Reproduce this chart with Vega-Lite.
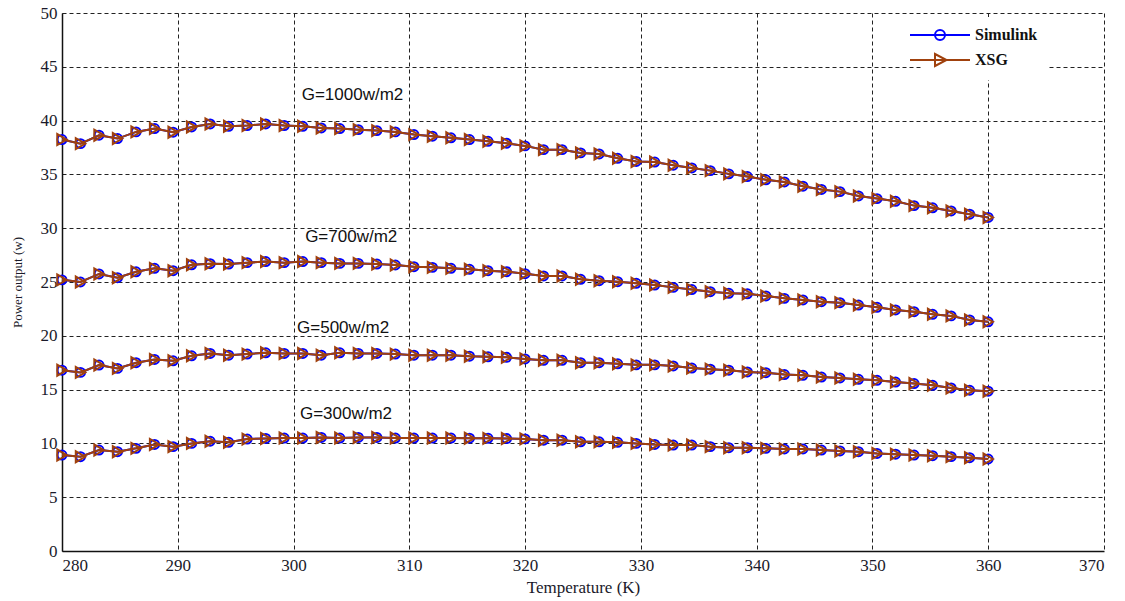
{
  "$schema": "https://vega.github.io/schema/vega-lite/v6.json",
  "width": 1042,
  "height": 538,
  "autosize": {"type": "none"},
  "padding": {"left": 62, "top": 13, "right": 21, "bottom": 50},
  "background": "white",
  "config": {
    "view": {"stroke": null},
    "axis": {
      "grid": true,
      "gridColor": "#222222",
      "gridDash": [4, 3],
      "gridWidth": 1,
      "gridOpacity": 1,
      "domainColor": "#111111",
      "domainWidth": 1.5,
      "ticks": false,
      "labelFont": "Liberation Serif",
      "labelFontSize": 17,
      "labelColor": "#1a1a2a",
      "titleFont": "Liberation Serif",
      "titleFontWeight": "normal",
      "titleColor": "#1a1a2a"
    }
  },
  "datasets": {
    "curves": [
      {"T": 280, "g1000": 38.24, "g700": 25.2, "g500": 16.8, "g300": 8.92},
      {"T": 281.6, "g1000": 37.86, "g700": 25.0, "g500": 16.6, "g300": 8.76},
      {"T": 283.2, "g1000": 38.64, "g700": 25.75, "g500": 17.28, "g300": 9.38},
      {"T": 284.8, "g1000": 38.33, "g700": 25.4, "g500": 16.97, "g300": 9.23},
      {"T": 286.4, "g1000": 38.95, "g700": 25.95, "g500": 17.5, "g300": 9.54},
      {"T": 288, "g1000": 39.26, "g700": 26.27, "g500": 17.8, "g300": 9.9},
      {"T": 289.6, "g1000": 38.92, "g700": 26.05, "g500": 17.68, "g300": 9.7},
      {"T": 291.2, "g1000": 39.41, "g700": 26.6, "g500": 18.14, "g300": 10.0},
      {"T": 292.8, "g1000": 39.69, "g700": 26.7, "g500": 18.36, "g300": 10.2},
      {"T": 294.4, "g1000": 39.47, "g700": 26.67, "g500": 18.2, "g300": 10.1},
      {"T": 296, "g1000": 39.54, "g700": 26.8, "g500": 18.3, "g300": 10.4},
      {"T": 297.6, "g1000": 39.69, "g700": 26.9, "g500": 18.42, "g300": 10.46},
      {"T": 299.2, "g1000": 39.54, "g700": 26.8, "g500": 18.36, "g300": 10.5},
      {"T": 300.8, "g1000": 39.47, "g700": 26.9, "g500": 18.36, "g300": 10.5},
      {"T": 302.4, "g1000": 39.32, "g700": 26.8, "g500": 18.2, "g300": 10.55},
      {"T": 304, "g1000": 39.26, "g700": 26.73, "g500": 18.42, "g300": 10.5},
      {"T": 305.6, "g1000": 39.16, "g700": 26.73, "g500": 18.36, "g300": 10.55},
      {"T": 307.2, "g1000": 39.07, "g700": 26.67, "g500": 18.36, "g300": 10.55},
      {"T": 308.8, "g1000": 38.95, "g700": 26.58, "g500": 18.3, "g300": 10.5},
      {"T": 310.4, "g1000": 38.7, "g700": 26.42, "g500": 18.2, "g300": 10.5},
      {"T": 312, "g1000": 38.55, "g700": 26.36, "g500": 18.2, "g300": 10.5},
      {"T": 313.6, "g1000": 38.4, "g700": 26.27, "g500": 18.2, "g300": 10.5},
      {"T": 315.2, "g1000": 38.24, "g700": 26.18, "g500": 18.1, "g300": 10.48},
      {"T": 316.8, "g1000": 38.08, "g700": 26.05, "g500": 18.05, "g300": 10.47},
      {"T": 318.4, "g1000": 37.9, "g700": 25.96, "g500": 18.0, "g300": 10.45},
      {"T": 320, "g1000": 37.65, "g700": 25.77, "g500": 17.85, "g300": 10.42},
      {"T": 321.6, "g1000": 37.3, "g700": 25.56, "g500": 17.72, "g300": 10.3},
      {"T": 323.2, "g1000": 37.3, "g700": 25.56, "g500": 17.72, "g300": 10.3},
      {"T": 324.8, "g1000": 37.0, "g700": 25.25, "g500": 17.5, "g300": 10.15},
      {"T": 326.4, "g1000": 36.9, "g700": 25.12, "g500": 17.5, "g300": 10.15},
      {"T": 328, "g1000": 36.5, "g700": 25.03, "g500": 17.4, "g300": 10.1},
      {"T": 329.6, "g1000": 36.2, "g700": 24.88, "g500": 17.3, "g300": 10.0},
      {"T": 331.2, "g1000": 36.15, "g700": 24.72, "g500": 17.3, "g300": 9.9},
      {"T": 332.8, "g1000": 35.85, "g700": 24.5, "g500": 17.2, "g300": 9.85},
      {"T": 334.4, "g1000": 35.6, "g700": 24.3, "g500": 17.0, "g300": 9.85},
      {"T": 336, "g1000": 35.35, "g700": 24.1, "g500": 16.9, "g300": 9.7},
      {"T": 337.6, "g1000": 35.05, "g700": 23.95, "g500": 16.8, "g300": 9.6},
      {"T": 339.2, "g1000": 34.8, "g700": 23.9, "g500": 16.64, "g300": 9.6},
      {"T": 340.8, "g1000": 34.5, "g700": 23.7, "g500": 16.57, "g300": 9.54},
      {"T": 342.4, "g1000": 34.3, "g700": 23.48, "g500": 16.4, "g300": 9.48},
      {"T": 344, "g1000": 33.9, "g700": 23.33, "g500": 16.33, "g300": 9.48},
      {"T": 345.6, "g1000": 33.6, "g700": 23.17, "g500": 16.17, "g300": 9.38},
      {"T": 347.2, "g1000": 33.4, "g700": 23.08, "g500": 16.08, "g300": 9.3},
      {"T": 348.8, "g1000": 33.0, "g700": 22.86, "g500": 15.96, "g300": 9.23},
      {"T": 350.4, "g1000": 32.75, "g700": 22.65, "g500": 15.86, "g300": 9.07},
      {"T": 352, "g1000": 32.5, "g700": 22.4, "g500": 15.7, "g300": 9.0},
      {"T": 353.6, "g1000": 32.1, "g700": 22.24, "g500": 15.56, "g300": 8.92},
      {"T": 355.2, "g1000": 31.9, "g700": 22.0, "g500": 15.4, "g300": 8.86},
      {"T": 356.8, "g1000": 31.6, "g700": 21.85, "g500": 15.15, "g300": 8.77},
      {"T": 358.4, "g1000": 31.3, "g700": 21.47, "g500": 14.94, "g300": 8.67},
      {"T": 360, "g1000": 31.0, "g700": 21.3, "g500": 14.85, "g300": 8.55}
    ],
    "labels": [
      {"T": 300.7, "P": 42.4, "text": "G=1000w/m2"},
      {"T": 301.0, "P": 29.2, "text": "G=700w/m2"},
      {"T": 300.3, "P": 20.7, "text": "G=500w/m2"},
      {"T": 300.55, "P": 12.7, "text": "G=300w/m2"}
    ]
  },
  "encoding": {
    "x": {
      "field": "T",
      "type": "quantitative",
      "scale": {"domain": [280, 370], "nice": false, "zero": false},
      "axis": {
        "values": [280, 290, 300, 310, 320, 330, 340, 350, 360, 370],
        "title": "Temperature (K)",
        "titleFontSize": 17,
        "labelPadding": 6,
        "titlePadding": 6
      }
    },
    "y": {
      "field": "P",
      "type": "quantitative",
      "scale": {"domain": [0, 50], "nice": false},
      "axis": {
        "values": [0, 5, 10, 15, 20, 25, 30, 35, 40, 45, 50],
        "title": "Power output (w)",
        "titleFontSize": 13,
        "labelPadding": 5,
        "titlePadding": 16
      }
    }
  },
  "layer": [
    {
      "data": {"name": "curves"},
      "transform": [{"fold": ["g1000", "g700", "g500", "g300"], "as": ["curve", "P"]}],
      "mark": {"type": "line", "strokeWidth": 2},
      "encoding": {
        "detail": {"field": "curve"},
        "color": {
          "datum": "Simulink",
          "scale": {"domain": ["Simulink", "XSG"], "range": ["#0000FF", "#A0410D"]},
          "legend": {
            "title": null,
            "orient": "none",
            "legendX": 860,
            "legendY": 4,
            "padding": 10,
            "fillColor": "white",
            "strokeColor": null,
            "symbolSize": 100,
            "symbolStrokeWidth": 2,
            "symbolFillColor": "transparent",
            "labelOffset": 27,
            "labelFont": "Liberation Serif",
            "labelFontSize": 16,
            "labelFontWeight": "bold",
            "labelColor": "#111111",
            "rowPadding": 6,
            "encode": {
              "symbols": {
                "update": {
                  "shape": {"signal": "datum.value === 'Simulink' ? 'M-6,0H6M-1,0A1,1 0 1,1 1,0A1,1 0 1,1 -1,0' : 'M-6,0H6M-1,-1.2L1.3,0L-1,1.2Z'"},
                  "fill": {"value": "transparent"},
                  "strokeWidth": {"value": 2}
                }
              }
            }
          }
        }
      }
    },
    {
      "data": {"name": "curves"},
      "transform": [{"fold": ["g1000", "g700", "g500", "g300"], "as": ["curve", "P"]}],
      "mark": {"type": "point", "shape": "circle", "filled": false, "size": 80, "strokeWidth": 2, "opacity": 1},
      "encoding": {"color": {"datum": "Simulink"}}
    },
    {
      "data": {"name": "curves"},
      "transform": [{"fold": ["g1000", "g700", "g500", "g300"], "as": ["curve", "P"]}],
      "mark": {"type": "line", "strokeWidth": 2},
      "encoding": {"detail": {"field": "curve"}, "color": {"datum": "XSG"}}
    },
    {
      "data": {"name": "curves"},
      "transform": [{"fold": ["g1000", "g700", "g500", "g300"], "as": ["curve", "P"]}],
      "mark": {"type": "point", "shape": "triangle-right", "filled": false, "size": 120, "strokeWidth": 2, "opacity": 1},
      "encoding": {"color": {"datum": "XSG"}}
    },
    {
      "data": {"name": "labels"},
      "mark": {"type": "text", "align": "left", "baseline": "middle", "font": "Liberation Sans", "fontSize": 17, "color": "#111111"},
      "encoding": {"text": {"field": "text"}}
    }
  ]
}
